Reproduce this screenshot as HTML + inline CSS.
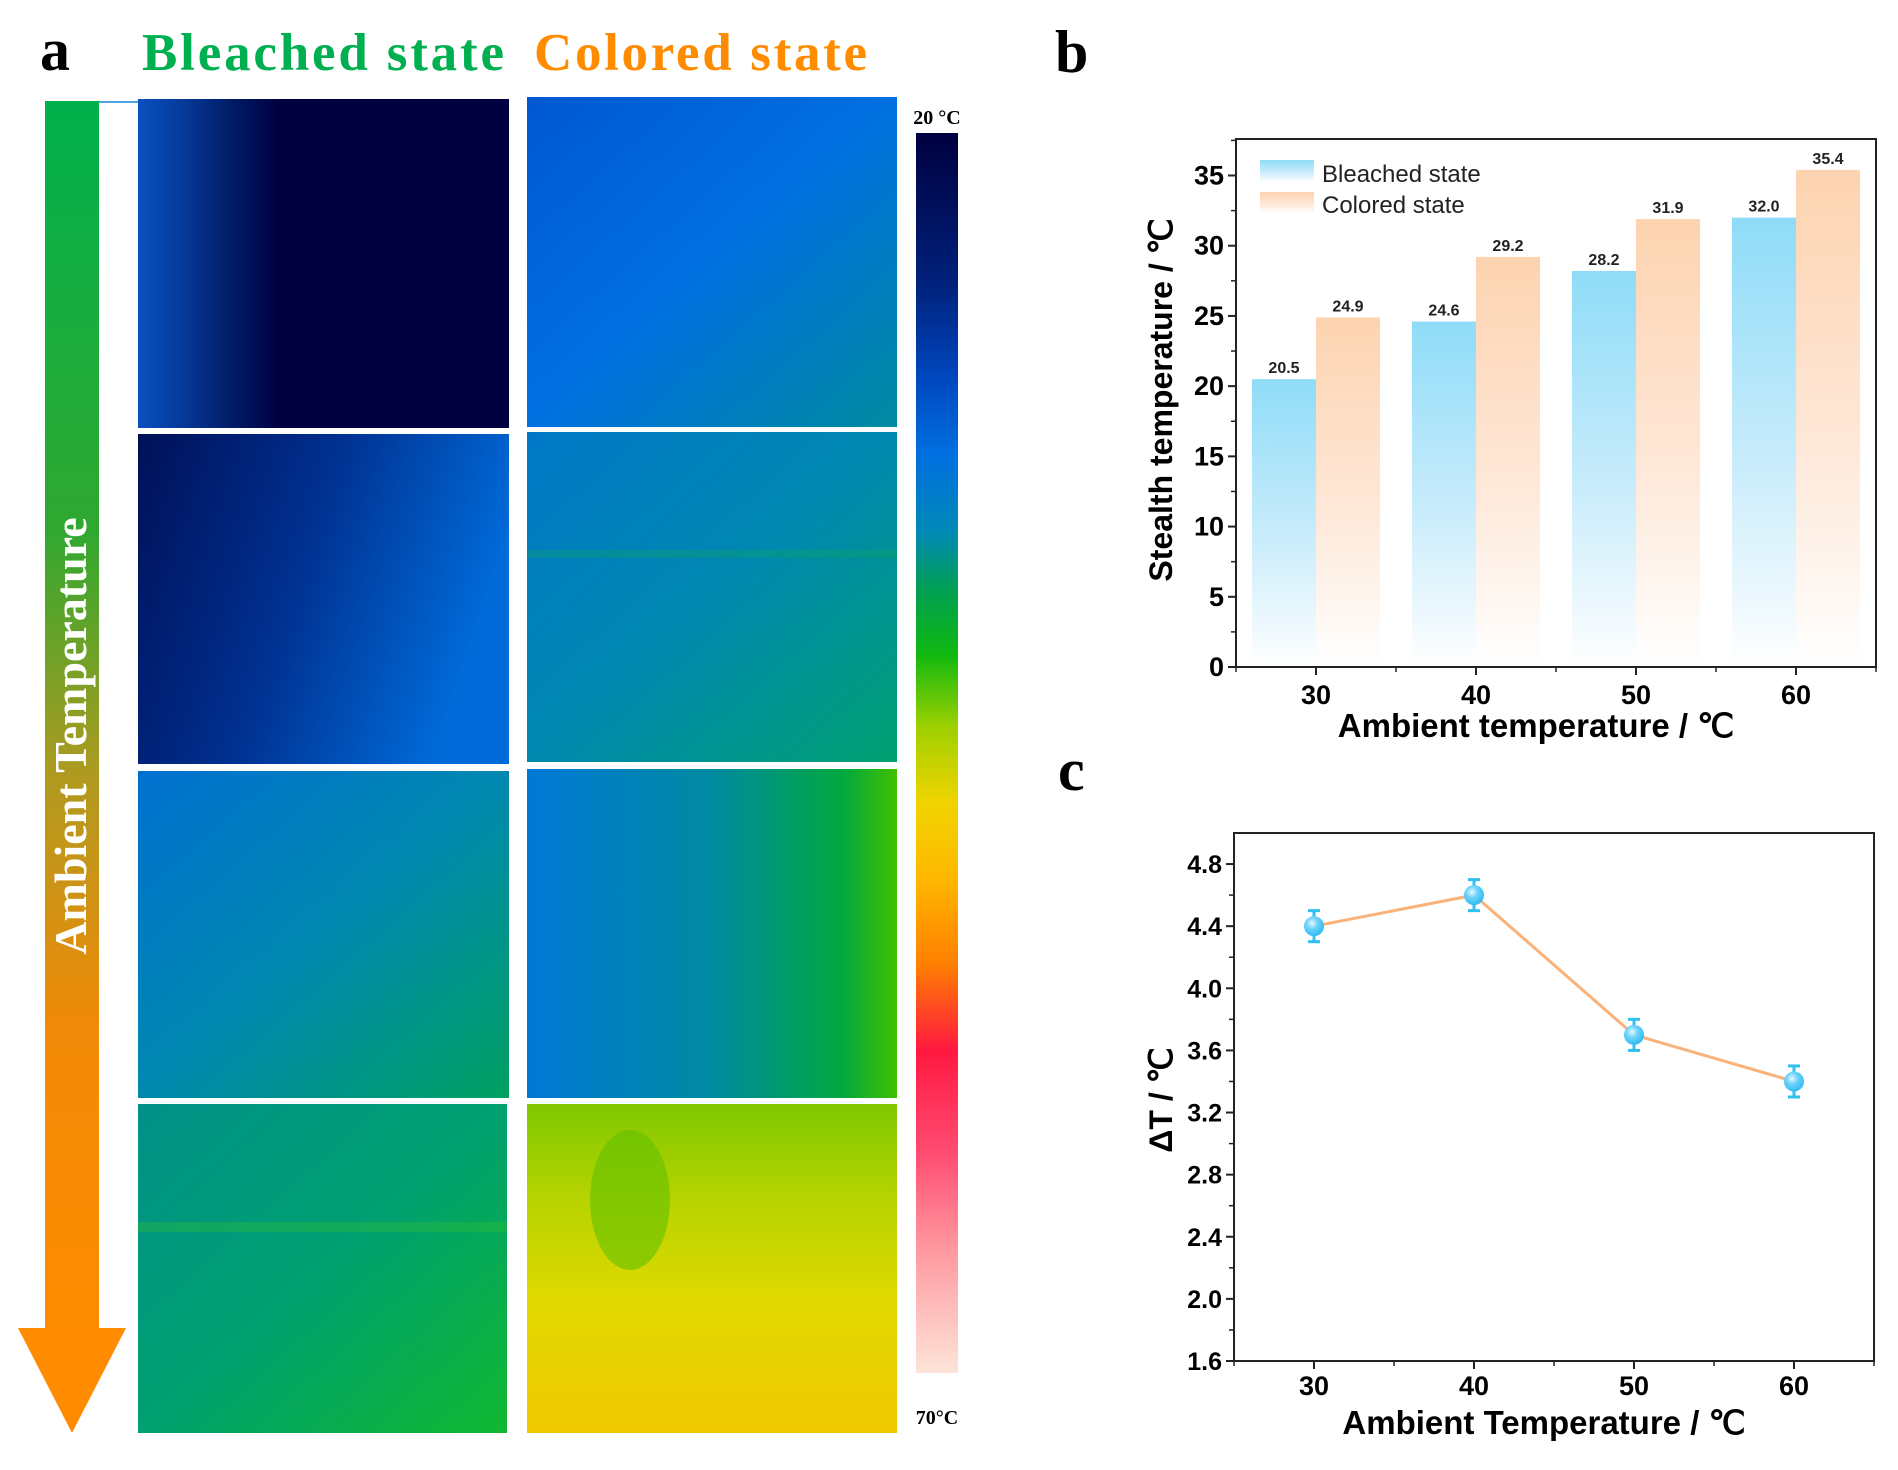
<!DOCTYPE html>
<html><head><meta charset="utf-8"><style>
html,body{margin:0;padding:0;background:#fff;}
svg{display:block;}
text{font-family:"Liberation Sans",Arial,sans-serif;}
.serif{font-family:"Liberation Serif","Times New Roman",serif;}
</style></head><body>
<svg id="root" width="1898" height="1470" viewBox="0 0 1898 1470" xmlns="http://www.w3.org/2000/svg">
<defs>
  <linearGradient id="arrowG" x1="0" y1="0" x2="0" y2="1">
    <stop offset="0" stop-color="#00b04c"/><stop offset="0.35" stop-color="#30a830"/>
    <stop offset="0.55" stop-color="#b09a20"/><stop offset="0.75" stop-color="#f08a08"/><stop offset="1" stop-color="#ff8c00"/>
  </linearGradient>
  <linearGradient id="cbar" x1="0" y1="0" x2="0" y2="1">
    <stop offset="0" stop-color="#000040"/><stop offset="0.12" stop-color="#00207a"/>
    <stop offset="0.2" stop-color="#0048c0"/><stop offset="0.26" stop-color="#0070e0"/>
    <stop offset="0.32" stop-color="#0088b8"/><stop offset="0.37" stop-color="#00a050"/>
    <stop offset="0.42" stop-color="#10b810"/><stop offset="0.48" stop-color="#a0d000"/>
    <stop offset="0.54" stop-color="#f0d400"/><stop offset="0.6" stop-color="#ffb800"/>
    <stop offset="0.67" stop-color="#ff8000"/><stop offset="0.74" stop-color="#ff1840"/>
    <stop offset="0.82" stop-color="#ff4a70"/><stop offset="0.9" stop-color="#ff98a0"/>
    <stop offset="1" stop-color="#fde4d8"/>
  </linearGradient>
  <linearGradient id="t11" x1="0" y1="0" x2="1" y2="0">
    <stop offset="0" stop-color="#0850c0"/><stop offset="0.12" stop-color="#063a98"/><stop offset="0.25" stop-color="#001c68"/><stop offset="0.38" stop-color="#000040"/><stop offset="1" stop-color="#000040"/>
  </linearGradient>
  <linearGradient id="t21" x1="0" y1="0" x2="1" y2="0.3">
    <stop offset="0" stop-color="#001058"/><stop offset="0.5" stop-color="#003090"/><stop offset="1" stop-color="#006ad8"/>
  </linearGradient>
  <linearGradient id="t12" x1="0" y1="0" x2="1" y2="1">
    <stop offset="0" stop-color="#0058d0"/><stop offset="0.5" stop-color="#0070e0"/><stop offset="1" stop-color="#008aa0"/>
  </linearGradient>
  <linearGradient id="t22" x1="0" y1="0" x2="1" y2="1">
    <stop offset="0" stop-color="#0078c8"/><stop offset="0.5" stop-color="#0088b0"/><stop offset="1" stop-color="#00a070"/>
  </linearGradient>
  <linearGradient id="t31" x1="0" y1="0" x2="1" y2="1">
    <stop offset="0" stop-color="#0070d0"/><stop offset="0.5" stop-color="#0088b0"/><stop offset="1" stop-color="#00a060"/>
  </linearGradient>
  <linearGradient id="t32" x1="0" y1="0" x2="1" y2="0">
    <stop offset="0" stop-color="#0078d8"/><stop offset="0.5" stop-color="#008aa0"/><stop offset="0.85" stop-color="#00a840"/><stop offset="1" stop-color="#40c000"/>
  </linearGradient>
  <linearGradient id="t41" x1="0" y1="0" x2="1" y2="1">
    <stop offset="0" stop-color="#009088"/><stop offset="0.5" stop-color="#00a070"/><stop offset="1" stop-color="#10b830"/>
  </linearGradient>
  <linearGradient id="t42" x1="0" y1="0" x2="0" y2="1">
    <stop offset="0" stop-color="#80c800"/><stop offset="0.3" stop-color="#b8d400"/><stop offset="0.6" stop-color="#e0d800"/><stop offset="1" stop-color="#f0c800"/>
  </linearGradient>
  <linearGradient id="gB" x1="0" y1="0" x2="0" y2="1">
    <stop offset="0" stop-color="#8fdcf8"/><stop offset="0.55" stop-color="#c9ecfb"/><stop offset="1" stop-color="#ffffff"/>
  </linearGradient>
  <linearGradient id="gC" x1="0" y1="0" x2="0" y2="1">
    <stop offset="0" stop-color="#fdd3b0"/><stop offset="0.55" stop-color="#fee8d8"/><stop offset="1" stop-color="#ffffff"/>
  </linearGradient>
  <radialGradient id="ball" cx="0.4" cy="0.35" r="0.7">
    <stop offset="0" stop-color="#e8f8ff"/><stop offset="0.4" stop-color="#6fd4fa"/><stop offset="1" stop-color="#28b8f0"/>
  </radialGradient>
</defs>

<!-- Panel a -->
<text x="40" y="70" class="serif" font-size="60" font-weight="bold" fill="#000">a</text>
<text x="142" y="70" class="serif" font-size="53" font-weight="bold" fill="#00b050" textLength="362">Bleached state</text>
<text x="534" y="70" class="serif" font-size="53" font-weight="bold" fill="#ff8c00" textLength="333">Colored state</text>

<g>
  <rect x="45" y="101" width="54" height="1230" fill="url(#arrowG)"/>
  <polygon points="18,1328 126,1328 72,1433" fill="#ff8c00"/>
  <line x1="99" y1="102" x2="138" y2="102" stroke="#4aa0e0" stroke-width="2"/>
  <text transform="translate(86,736) rotate(-90)" text-anchor="middle" class="serif" font-size="46" font-weight="bold" fill="#fff">Ambient Temperature</text>
</g>

<g>
  <rect x="138" y="99" width="371" height="329" fill="url(#t11)"/>
  <rect x="527" y="97" width="370" height="330" fill="url(#t12)"/>
  <rect x="138" y="434" width="371" height="330" fill="url(#t21)"/>
  <rect x="527" y="432" width="370" height="330" fill="url(#t22)"/>
  <rect x="138" y="771" width="371" height="327" fill="url(#t31)"/>
  <rect x="527" y="769" width="370" height="329" fill="url(#t32)"/>
  <rect x="138" y="1104" width="369" height="329" fill="url(#t41)"/>
  <rect x="527" y="1104" width="370" height="329" fill="url(#t42)"/>
  <rect x="527" y="550" width="370" height="8" fill="#10b040" opacity="0.25"/>
  <rect x="138" y="1222" width="369" height="10" fill="#30c030" opacity="0.35"/>
  <ellipse cx="630" cy="1200" rx="40" ry="70" fill="#60c000" opacity="0.6"/>
</g>

<g>
  <rect x="916" y="133" width="42" height="1240" fill="url(#cbar)"/>
  <text x="937" y="124" class="serif" font-size="20" font-weight="bold" text-anchor="middle">20 °C</text>
  <text x="937" y="1424" class="serif" font-size="20" font-weight="bold" text-anchor="middle">70°C</text>
</g>

<text x="1055" y="72" class="serif" font-size="60" font-weight="bold">b</text>
<text x="1058" y="790" class="serif" font-size="60" font-weight="bold">c</text>

<g id="chartB"></g>
<g id="chartC"></g>
</svg>

<script>
const categories = [30, 40, 50, 60];
const bleachedValues = [20.5, 24.6, 28.2, 32.0];
const coloredValues = [24.9, 29.2, 31.9, 35.4];
const barYTicks = [0, 5, 10, 15, 20, 25, 30, 35];
const deltaValues = [4.4, 4.6, 3.7, 3.4];
const deltaErrors = [0.1, 0.1, 0.1, 0.1];
const lineYTicks = [1.6, 2.0, 2.4, 2.8, 3.2, 3.6, 4.0, 4.4, 4.8];

const NS = 'http://www.w3.org/2000/svg';
function mk(parent, tag, attrs, txt) {
  const e = document.createElementNS(NS, tag);
  for (const k in attrs) e.setAttribute(k, attrs[k]);
  if (txt !== undefined) e.textContent = txt;
  parent.appendChild(e);
  return e;
}
function lin(d0, d1, r0, r1) { return v => r0 + (v - d0) / (d1 - d0) * (r1 - r0); }

// ---- Chart b ----
(function () {
  const g = document.getElementById('chartB');
  const L = 1236, R = 1876, T = 139, B = 667;
  const x = lin(25, 65, L, R), y = lin(0, 37.6, B, T);
  const bw = x(4) - x(0);
  categories.forEach((c, i) => {
    const b = mk(g, 'rect', {x: x(c) - bw, y: y(bleachedValues[i]), width: bw, height: B - y(bleachedValues[i]), fill: 'url(#gB)'});
    
    
    const cr = mk(g, 'rect', {x: x(c), y: y(coloredValues[i]), width: bw, height: B - y(coloredValues[i]), fill: 'url(#gC)'});
    
    
    const l1 = mk(g, 'text', {x: x(c) - bw / 2, y: y(bleachedValues[i]) - 6, 'text-anchor': 'middle', 'font-size': 16, 'font-weight': 'bold', fill: '#222'}, bleachedValues[i].toFixed(1));
    
    
    const l2 = mk(g, 'text', {x: x(c) + bw / 2, y: y(coloredValues[i]) - 6, 'text-anchor': 'middle', 'font-size': 16, 'font-weight': 'bold', fill: '#222'}, coloredValues[i].toFixed(1));
    
    
  });
  mk(g, 'rect', {x: L, y: T, width: R - L, height: B - T, fill: 'none', stroke: '#222', 'stroke-width': 2});
  barYTicks.forEach(v => {
    mk(g, 'line', {x1: L - 8, x2: L, y1: y(v), y2: y(v), stroke: '#222', 'stroke-width': 2});
    mk(g, 'line', {x1: L - 5, x2: L, y1: y(v + 2.5), y2: y(v + 2.5), stroke: '#222', 'stroke-width': 1.5});
    const t = mk(g, 'text', {x: L - 12, y: y(v) + 9, 'text-anchor': 'end', 'font-size': 27, 'font-weight': 'bold'}, v);
    
    
  });
  categories.forEach(c => {
    mk(g, 'line', {x1: x(c), x2: x(c), y1: B, y2: B + 8, stroke: '#222', 'stroke-width': 2});
    mk(g, 'line', {x1: x(c + 5), x2: x(c + 5), y1: B, y2: B + 5, stroke: '#222', 'stroke-width': 1.5});
    const t = mk(g, 'text', {x: x(c), y: y(0) + 37, 'text-anchor': 'middle', 'font-size': 27, 'font-weight': 'bold'}, c);
    
    
  });
  mk(g, 'line', {x1: x(25), x2: x(25), y1: B, y2: B + 5, stroke: '#222', 'stroke-width': 1.5});
  const xt = mk(g, 'text', {x: (L + R) / 2 - 20, y: 737, 'text-anchor': 'middle', 'font-size': 33, 'font-weight': 'bold'}, 'Ambient temperature / ℃');
  
  
  const yt = mk(g, 'text', {transform: 'translate(1172,400) rotate(-90)', 'text-anchor': 'middle', 'font-size': 32, 'font-weight': 'bold'}, 'Stealth temperature / ℃');
  
  
  const lg = mk(g, 'g', {});
  
  
  mk(lg, 'rect', {x: 1260, y: 160, width: 54, height: 22, fill: 'url(#gB)'});
  mk(lg, 'rect', {x: 1260, y: 192, width: 54, height: 22, fill: 'url(#gC)'});
  mk(lg, 'text', {x: 1322, y: 182, 'font-size': 24, fill: '#222'}, 'Bleached state');
  mk(lg, 'text', {x: 1322, y: 213, 'font-size': 24, fill: '#222'}, 'Colored state');
})();

// ---- Chart c ----
(function () {
  const g = document.getElementById('chartC');
  const L = 1234, R = 1874, T = 833, B = 1361;
  const x = lin(25, 65, L, R), y = lin(1.6, 5.0, B, T);
  mk(g, 'rect', {x: L, y: T, width: R - L, height: B - T, fill: 'none', stroke: '#222', 'stroke-width': 2});
  lineYTicks.forEach(v => {
    mk(g, 'line', {x1: L - 8, x2: L, y1: y(v), y2: y(v), stroke: '#222', 'stroke-width': 2});
    if (v < 4.8) mk(g, 'line', {x1: L - 5, x2: L, y1: y(v + 0.2), y2: y(v + 0.2), stroke: '#222', 'stroke-width': 1.5});
    const t = mk(g, 'text', {x: L - 12, y: y(v) + 9, 'text-anchor': 'end', 'font-size': 25, 'font-weight': 'bold'}, v.toFixed(1));
    
    
  });
  categories.forEach(c => {
    mk(g, 'line', {x1: x(c), x2: x(c), y1: B, y2: B + 8, stroke: '#222', 'stroke-width': 2});
    mk(g, 'line', {x1: x(c + 5), x2: x(c + 5), y1: B, y2: B + 5, stroke: '#222', 'stroke-width': 1.5});
    const t = mk(g, 'text', {x: x(c), y: B + 34, 'text-anchor': 'middle', 'font-size': 27, 'font-weight': 'bold'}, c);
    
    
  });
  mk(g, 'line', {x1: x(25), x2: x(25), y1: B, y2: B + 5, stroke: '#222', 'stroke-width': 1.5});
  const pts = categories.map((c, i) => x(c) + ',' + y(deltaValues[i])).join(' ');
  const pl = mk(g, 'polyline', {points: pts, fill: 'none', stroke: '#f8b27a', 'stroke-width': 3});
  
  
  categories.forEach((c, i) => {
    const cx = x(c), v = deltaValues[i], e = deltaErrors[i];
    const eg = mk(g, 'g', {stroke: '#30c0f0', 'stroke-width': 3});
    
    
    mk(eg, 'line', {x1: cx, x2: cx, y1: y(v + e), y2: y(v - e)});
    mk(eg, 'line', {x1: cx - 6, x2: cx + 6, y1: y(v + e), y2: y(v + e)});
    mk(eg, 'line', {x1: cx - 6, x2: cx + 6, y1: y(v - e), y2: y(v - e)});
    const p = mk(g, 'circle', {cx: cx, cy: y(v), r: 10, fill: 'url(#ball)'});
    
    
  });
  const xt = mk(g, 'text', {x: (L + R) / 2 - 10, y: 1434, 'text-anchor': 'middle', 'font-size': 33, 'font-weight': 'bold'}, 'Ambient Temperature / ℃');
  
  
  const yt = mk(g, 'text', {transform: 'translate(1172,1100) rotate(-90)', 'text-anchor': 'middle', 'font-size': 32, 'font-weight': 'bold'}, 'ΔT / ℃');
  
  
})();
</script>
</body></html>
